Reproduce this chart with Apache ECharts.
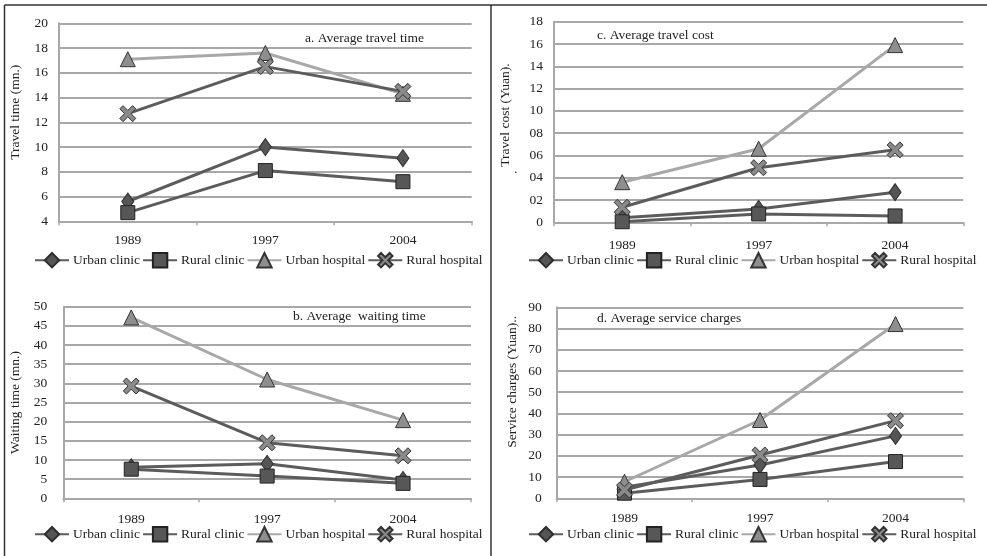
<!DOCTYPE html>
<html>
<head>
<meta charset="utf-8">
<script src="https://cdn.jsdelivr.net/npm/echarts@6/dist/echarts.min.js"></script>
<style>
html,body{margin:0;padding:0;background:#fff;}
#chart{width:987px;height:556px;}
</style>
</head>
<body>
<div id="chart"></div>
<script>
// ---- data ----
var years = ['1989', '1997', '2004'];
var seriesNames = ['Urban clinic', 'Rural clinic', 'Urban hospital', 'Rural hospital'];

// a. Average travel time (mn.)
var travelTimeUrbanClinic = [5.6, 10.0, 9.1];
var travelTimeRuralClinic = [4.7, 8.1, 7.2];
var travelTimeUrbanHospital = [17.1, 17.6, 14.3];
var travelTimeRuralHospital = [12.7, 16.5, 14.5];

// b. Average waiting time (mn.)
var waitTimeUrbanClinic = [8.1, 9.0, 4.8];
var waitTimeRuralClinic = [7.6, 5.8, 3.9];
var waitTimeUrbanHospital = [47.2, 31.0, 20.4];
var waitTimeRuralHospital = [29.3, 14.5, 11.1];

// c. Average travel cost (Yuan)
var travelCostUrbanClinic = [0.4, 1.2, 2.7];
var travelCostRuralClinic = [0.05, 0.75, 0.57];
var travelCostUrbanHospital = [3.6, 6.6, 15.9];
var travelCostRuralHospital = [1.35, 4.9, 6.5];

// d. Average service charges (Yuan)
var chargesUrbanClinic = [5.2, 15.7, 29.4];
var chargesRuralClinic = [2.4, 8.9, 17.3];
var chargesUrbanHospital = [7.8, 36.9, 82.1];
var chargesRuralHospital = [3.9, 20.4, 36.6];

var panelTitles = ['a. Average travel time', 'b. Average  waiting time', 'c. Average travel cost', 'd. Average service charges'];
var yNames = ['Travel time (mn.)', 'Waiting time (mn.)', 'Travel cost (Yuan).', 'Service charges (Yuan)..'];

// ---- styling ----
var FONT = "'Liberation Serif', 'Times New Roman', serif";
var FS = 13.5;
var TXT = '#222';
var GRID = '#a8a8a8';
var XPATH = 'path://M0,4 L4,0 L10,6 L16,0 L20,4 L14,10 L20,16 L16,20 L10,14 L4,20 L0,16 L6,10 Z';

var seriesStyle = [
  {symbol: 'diamond', size: [12, 17], fill: '#555', border: '#2e2e2e', line: '#5c5c5c'},
  {symbol: 'rect', size: 14, fill: '#575757', border: '#222', line: '#5c5c5c'},
  {symbol: 'triangle', size: 15, fill: '#8e8e8e', border: '#333', line: '#a8a8a8'},
  {symbol: XPATH, size: 16, fill: '#8a8a8a', border: '#333', line: '#5c5c5c'}
];

var panelData = [
  [travelTimeUrbanClinic, travelTimeRuralClinic, travelTimeUrbanHospital, travelTimeRuralHospital],
  [waitTimeUrbanClinic, waitTimeRuralClinic, waitTimeUrbanHospital, waitTimeRuralHospital],
  [travelCostUrbanClinic, travelCostRuralClinic, travelCostUrbanHospital, travelCostRuralHospital],
  [chargesUrbanClinic, chargesRuralClinic, chargesUrbanHospital, chargesRuralHospital]
];

var grids = [
  {left: 59, top: 23.3, width: 412.7, height: 198},
  {left: 63.3, top: 306.7, width: 407.7, height: 191.6},
  {left: 554, top: 21.7, width: 409.3, height: 200.6},
  {left: 556.7, top: 307.3, width: 406.6, height: 191}
];
var yRanges = [
  {min: 4, max: 20, interval: 2},
  {min: 0, max: 50, interval: 5},
  {min: 0, max: 18, interval: 2},
  {min: 0, max: 90, interval: 10}
];
var yLabelMargin = [11, 16, 11, 15];
var xLabelMargin = [12, 14, 16, 13];
var yNameGap = [36.5, 40.5, 41.5, 37.5];
var yNamePad = [[0, 0, 0, 20], [0, 0, 0, 0], [0, 0, 0, 14], [0, 0, 0, 42]];
var titlePos = [{left: 305, top: 31}, {left: 293, top: 309}, {left: 597, top: 28}, {left: 597, top: 311}];
var legendPos = [{left: 34, top: 252}, {left: 34, top: 526}, {left: 528, top: 252}, {left: 528, top: 526}];

var xAxes = [], yAxes = [], series = [], titles = [], legends = [];
for (var p = 0; p < 4; p++) {
  xAxes.push({
    type: 'category', gridIndex: p, data: years, boundaryGap: true,
    axisLine: {lineStyle: {color: GRID, width: 2}},
    axisTick: {show: true, length: 4, lineStyle: {color: GRID, width: 1.5}},
    axisLabel: {color: TXT, fontFamily: FONT, fontSize: FS, margin: xLabelMargin[p]}
  });
  yAxes.push({
    type: 'value', gridIndex: p, min: yRanges[p].min, max: yRanges[p].max, interval: yRanges[p].interval,
    name: yNames[p], nameLocation: 'middle', nameRotate: 90, nameGap: yNameGap[p],
    nameTextStyle: {color: TXT, fontFamily: FONT, fontSize: FS, padding: yNamePad[p]},
    axisLine: {show: true, lineStyle: {color: GRID, width: 2}},
    axisTick: {show: false},
    splitLine: {show: true, lineStyle: {color: GRID, width: 2}},
    axisLabel: {
      color: TXT, fontFamily: FONT, fontSize: FS, margin: yLabelMargin[p],
      formatter: p === 2 ? function (v) { return v === 0 ? '0' : (v < 10 ? '0' + v : String(v)); } : '{value}'
    }
  });
  titles.push({
    text: panelTitles[p], left: titlePos[p].left, top: titlePos[p].top, padding: 0,
    textStyle: {color: TXT, fontFamily: FONT, fontSize: FS, fontWeight: 'normal'}
  });
  legends.push({
    data: seriesNames.slice(), left: legendPos[p].left, top: legendPos[p].top, padding: 0,
    itemWidth: 34, itemHeight: 18, itemGap: 2, selectedMode: false,
    textStyle: {color: TXT, fontFamily: FONT, fontSize: FS, padding: [0, 0, 0, -1]}
  });
  for (var s = 0; s < 4; s++) {
    var st = seriesStyle[s];
    series.push({
      type: 'line', name: seriesNames[s], xAxisIndex: p, yAxisIndex: p,
      data: panelData[p][s],
      symbol: st.symbol, symbolSize: st.size, showAllSymbol: true,
      lineStyle: {color: st.line, width: 3},
      itemStyle: {color: st.fill, borderColor: st.border, borderWidth: 1},
      emphasis: {disabled: true},
      animation: false, z: 2 + s
    });
  }
}

var chart = echarts.init(document.getElementById('chart'), null, {renderer: 'canvas'});
chart.setOption({
  backgroundColor: '#fff',
  animation: false,
  title: titles,
  legend: legends,
  grid: grids,
  xAxis: xAxes,
  yAxis: yAxes,
  series: series,
  graphic: [
    {type: 'line', shape: {x1: 4.5, y1: 5, x2: 4.5, y2: 556}, style: {stroke: '#333', lineWidth: 1.5}, silent: true},
    {type: 'line', shape: {x1: 4.5, y1: 5, x2: 987, y2: 5}, style: {stroke: '#333', lineWidth: 1.5}, silent: true},
    {type: 'line', shape: {x1: 491, y1: 5, x2: 491, y2: 556}, style: {stroke: '#333', lineWidth: 1.5}, silent: true},
    {type: 'text', x: 514, y: 162, style: {text: '.', fill: TXT, font: FS + 'px ' + FONT}, silent: true}
  ]
});
</script>
</body>
</html>
